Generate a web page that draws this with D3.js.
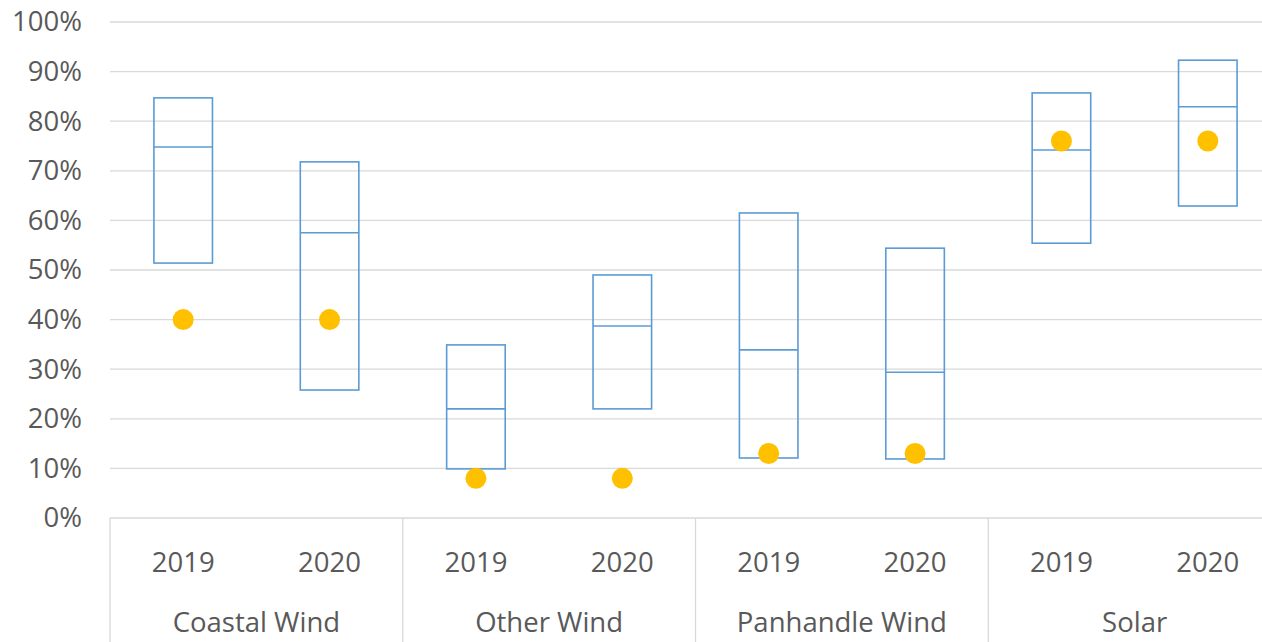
<!DOCTYPE html>
<html>
<head>
<meta charset="utf-8">
<script src="https://cdn.jsdelivr.net/npm/d3@7"></script>
<style>
  html, body { margin: 0; padding: 0; background: #fff; }
  svg { display: block; font-family: "Open Sans", "Liberation Sans", sans-serif; }
</style>
</head>
<body>
<svg id="chart" width="1262" height="642"></svg>
<script>
// Resource groups and the two years shown for each
const groups = ["Coastal Wind", "Other Wind", "Panhandle Wind", "Solar"];
const years = ["2019", "2020"];

// Range per group/year (low, median, high) as fractions, one entry per group, [2019, 2020]
const lowValues = [[0.514, 0.258], [0.099, 0.220], [0.121, 0.119], [0.554, 0.629]];
const midValues = [[0.748, 0.575], [0.220, 0.387], [0.339, 0.294], [0.742, 0.829]];
const highValues = [[0.847, 0.718], [0.349, 0.490], [0.615, 0.544], [0.857, 0.923]];
// Point value per group/year
const pointValues = [[0.40, 0.40], [0.08, 0.08], [0.13, 0.13], [0.76, 0.76]];

const yTicks = [0, 0.1, 0.2, 0.3, 0.4, 0.5, 0.6, 0.7, 0.8, 0.9, 1.0];

const svg = d3.select("#chart");
const plotLeft = 110, plotRight = 1281, plotTop = 22, plotBottom = 518;

const x0 = d3.scaleBand().domain(groups).range([plotLeft, plotRight]).padding(0);
const x1 = d3.scaleBand().domain(years).range([0, x0.bandwidth()]).padding(0);
const y = d3.scaleLinear().domain([0, 1]).range([plotBottom, plotTop]);
const boxW = x1.bandwidth() * 0.4;

const gridColor = "#D9D9D9";
const textColor = "#595959";
const fontSize = 27.5;

// Horizontal gridlines
svg.append("g").selectAll("line").data(yTicks.slice(1)).join("line")
  .attr("x1", plotLeft).attr("x2", plotRight)
  .attr("y1", d => y(d)).attr("y2", d => y(d))
  .attr("stroke", gridColor).attr("stroke-width", 1.3);

// Y axis labels
const yAxis = d3.axisLeft(y).tickValues(yTicks).tickFormat(d3.format(".0%")).tickSize(0).tickPadding(28);
const gy = svg.append("g").attr("transform", `translate(${plotLeft},0)`).call(yAxis);
gy.select(".domain").remove();
gy.selectAll("text").attr("fill", textColor).attr("font-size", fontSize).attr("font-family", "Open Sans");

// Category axis line and group separators
svg.append("line").attr("x1", plotLeft).attr("x2", plotRight).attr("y1", plotBottom).attr("y2", plotBottom)
  .attr("stroke", gridColor).attr("stroke-width", 1.3);
const seps = groups.map(g => x0(g)).concat([plotRight]);
svg.append("g").selectAll("line").data(seps).join("line")
  .attr("x1", d => d).attr("x2", d => d).attr("y1", plotBottom).attr("y2", 642)
  .attr("stroke", gridColor).attr("stroke-width", 1.3);

// Flatten into records
const records = [];
groups.forEach((g, gi) => years.forEach((yr, yi) => {
  records.push({
    group: g, year: yr,
    low: lowValues[gi][yi], mid: midValues[gi][yi], high: highValues[gi][yi],
    point: pointValues[gi][yi],
    cx: x0(g) + x1(yr) + x1.bandwidth() / 2
  });
}));

// Year labels
svg.append("g").selectAll("text").data(records).join("text")
  .attr("x", d => d.cx).attr("y", 572)
  .attr("text-anchor", "middle").attr("fill", textColor).attr("font-size", fontSize)
  .text(d => d.year);

// Group labels
svg.append("g").selectAll("text").data(groups).join("text")
  .attr("x", d => x0(d) + x0.bandwidth() / 2).attr("y", 632)
  .attr("text-anchor", "middle").attr("fill", textColor).attr("font-size", fontSize)
  .text(d => d);

// Range boxes with median line
const boxes = svg.append("g");
boxes.selectAll("rect").data(records).join("rect")
  .attr("x", d => d.cx - boxW / 2).attr("width", boxW)
  .attr("y", d => y(d.high)).attr("height", d => y(d.low) - y(d.high))
  .attr("fill", "none").attr("stroke", "#5B9BD5").attr("stroke-width", 1.6);
boxes.selectAll("line").data(records).join("line")
  .attr("x1", d => d.cx - boxW / 2).attr("x2", d => d.cx + boxW / 2)
  .attr("y1", d => y(d.mid)).attr("y2", d => y(d.mid))
  .attr("stroke", "#5B9BD5").attr("stroke-width", 1.6);

// Points
svg.append("g").selectAll("circle").data(records).join("circle")
  .attr("cx", d => d.cx).attr("cy", d => y(d.point)).attr("r", 10.5)
  .attr("fill", "#FFC000");
</script>
</body>
</html>
